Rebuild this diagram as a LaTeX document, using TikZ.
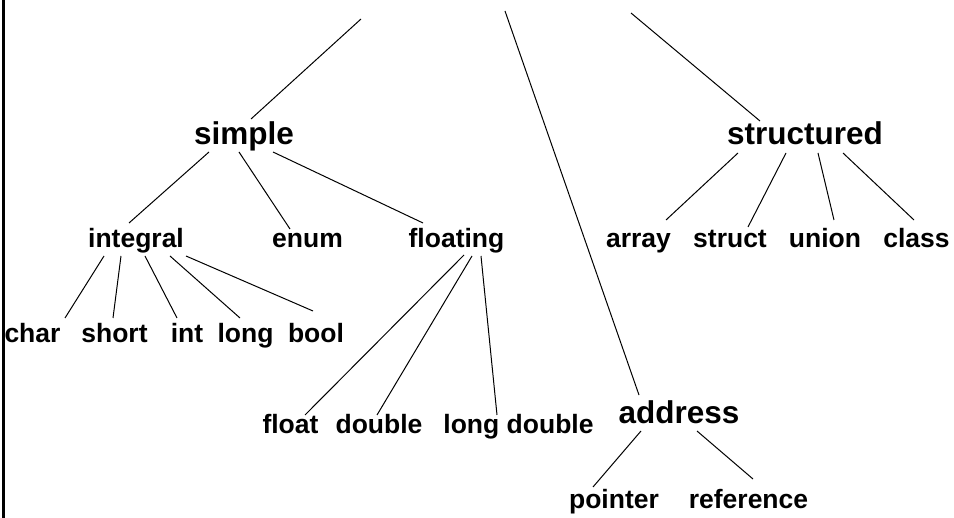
\documentclass[tikz,border=0pt]{standalone}
\usepackage{fontspec}
\setmainfont{Liberation Sans}
\begin{document}
\begin{tikzpicture}[x=1pt,y=-1pt,
  big/.style={inner sep=0pt,anchor=base,font=\fontsize{31.5}{36}\selectfont\bfseries},
  small/.style={inner sep=0pt,anchor=base,font=\fontsize{26.5}{30}\selectfont\bfseries},
  link/.style={line width=1pt,black},
  border/.style={line width=3pt,black}]
\useasboundingbox (0,0) rectangle (954,518);
% left border
\coordinate (bt) at (3,0);
\coordinate (bb) at (3,518);
\draw[border] (bt) -- (bb);
% free top ends
\coordinate (top1) at (361,19);
\coordinate (top2) at (505,11);
\coordinate (top3) at (631,13);
% nodes
\node[big] (simple) at (244,145) {simple};
\node[big] (structured) at (805,145) {structured};
\node[big] (address) at (679,424) {address};
\node[small] (integral) at (136,248) {integral};
\node[small] (enum) at (307.5,248) {enum};
\node[small] (floating) at (456.5,248) {floating};
\node[small] (array) at (638.5,248) {array};
\node[small] (struct) at (730,248) {struct};
\node[small] (union) at (825,248) {union};
\node[small] (class) at (916.5,248) {class};
\node[small] (char) at (32.5,343) {char};
\node[small] (short) at (114.5,343) {short};
\node[small] (int) at (187,343) {int};
\node[small] (long) at (245.5,343) {long};
\node[small] (bool) at (316,343) {bool};
\node[small] (float) at (290.5,434) {float};
\node[small] (double) at (379,434) {double};
\node[small] (longdouble) at (518.5,434) {long double};
\node[small] (pointer) at (614,509) {pointer};
\node[small] (reference) at (748.5,509) {reference};
% top connectors
\draw[link] (top1) -- ([shift={(7,-26)}]simple.base);
\draw[link] (top2) -- ([shift={(-40,-29)}]address.base);
\draw[link] (top3) -- ([shift={(-45,-24)}]structured.base);
% simple
\draw[link] ([shift={(-35,7)}]simple.base) -- ([shift={(-7,-25)}]integral.base);
\draw[link] ([shift={(-5,7)}]simple.base) -- ([shift={(-17.5,-19)}]enum.base);
\draw[link] ([shift={(29,7)}]simple.base) -- ([shift={(-33.5,-25)}]floating.base);
% integral
\draw[link] ([shift={(-32,8)}]integral.base) -- ([shift={(32.5,-25)}]char.base);
\draw[link] ([shift={(-15,8)}]integral.base) -- ([shift={(-1.5,-25)}]short.base);
\draw[link] ([shift={(9,8)}]integral.base) -- ([shift={(-10,-25)}]int.base);
\draw[link] ([shift={(34,8)}]integral.base) -- ([shift={(-5.5,-25)}]long.base);
\draw[link] ([shift={(50,8)}]integral.base) -- ([shift={(-3,-32)}]bool.base);
% floating
\draw[link] ([shift={(7.5,7)}]floating.base) -- ([shift={(14.5,-19)}]float.base);
\draw[link] ([shift={(15.5,8)}]floating.base) -- ([shift={(-2,-19)}]double.base);
\draw[link] ([shift={(24.5,8)}]floating.base) -- ([shift={(-21.5,-19)}]longdouble.base);
% structured
\draw[link] ([shift={(-67,8)}]structured.base) -- ([shift={(27.5,-28)}]array.base);
\draw[link] ([shift={(-19,8)}]structured.base) -- ([shift={(18,-21)}]struct.base);
\draw[link] ([shift={(13,8)}]structured.base) -- ([shift={(9,-28)}]union.base);
\draw[link] ([shift={(38,8)}]structured.base) -- ([shift={(-2.5,-28)}]class.base);
% address
\draw[link] ([shift={(-38,7)}]address.base) -- ([shift={(-21,-22)}]pointer.base);
\draw[link] ([shift={(18,7)}]address.base) -- ([shift={(4.5,-30)}]reference.base);
\end{tikzpicture}
\end{document}
